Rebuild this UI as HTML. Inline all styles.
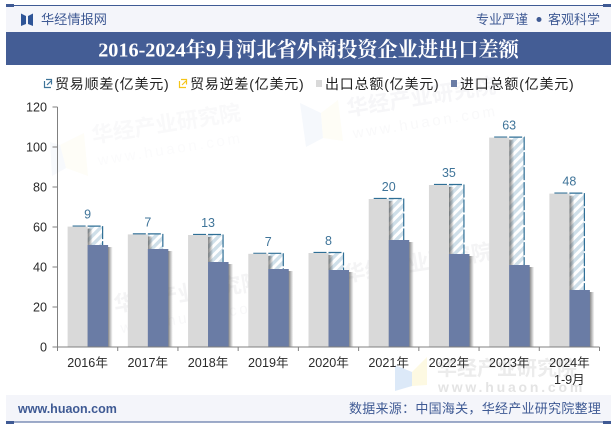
<!DOCTYPE html>
<html lang="zh"><head><meta charset="utf-8"><title>河北省外商投资企业进出口差额</title>
<style>
html,body{margin:0;padding:0;background:#fff;width:615px;height:427px;overflow:hidden}
svg{display:block}
text{font-family:"Liberation Sans","Noto Sans CJK SC",sans-serif}
.serif{font-family:"Liberation Serif","Noto Serif CJK SC",serif}
</style></head><body>
<svg id="chart" xmlns="http://www.w3.org/2000/svg" width="615" height="427" viewBox="0 0 615 427">
<defs>
<pattern id="hatch" patternUnits="userSpaceOnUse" width="6.4" height="6.4" patternTransform="rotate(45)">
<rect width="6.4" height="6.4" fill="#ffffff"/><rect width="3.4" height="6.4" fill="#cfdfe9"/>
</pattern>
<linearGradient id="shade" x1="0" x2="1" y1="0" y2="0">
<stop offset="0" stop-color="#444" stop-opacity=".7"/><stop offset="1" stop-color="#444" stop-opacity="0"/>
</linearGradient>
</defs>
<g id="watermarks">
<g transform="rotate(-9 93 143)" fill="#f9f9fa">
<text x="93" y="143" font-size="21.500" font-weight="700">华经产业研究院</text>
<text x="95" y="166" font-size="15" letter-spacing="2.800" fill="#fbfbfc">www.huaon.com</text></g>
<polygon points="60,145 84,133 88,176 66,168" fill="#fefdf7"/>
<polygon points="50,142 60,145 66,168 52,176" fill="#f7f9fc"/>
<g transform="rotate(-9 348 116)" fill="#f6f6f8">
<text x="348" y="116" font-size="21.500" font-weight="700">华经产业研究院</text>
<text x="350" y="139" font-size="15" letter-spacing="2.800" fill="#f9f9fa">www.huaon.com</text></g>
<polygon points="300,103 321,113 323,138 306,147" fill="#f5f8fc"/>
<polygon points="321,113 338,100 343,141 323,138" fill="#fefdf6"/>
<g transform="rotate(-9 115 312)" fill="#f4f4f5">
<text x="115" y="312" font-size="21.500" font-weight="700">华经产业研究院</text>
<text x="118" y="334" font-size="15" letter-spacing="2.800" fill="#f8f8f9">www.huaon.com</text></g>
<g transform="rotate(-9 345 282)" fill="#f4f4f5">
<text x="345" y="282" font-size="21.500" font-weight="700">华经产业研究院</text></g>
<polygon points="395,365 412,372 412,386 395,391" fill="#dce9f8"/>
<polygon points="412,372 427,357 427,385 412,386" fill="#fdf9e2"/>
<text x="437" y="375" font-size="20" font-weight="700" fill="#ececec">华经产业研究院</text>
<text x="438" y="392" font-size="14" font-weight="700" letter-spacing="2.800" fill="#e4e4e4">www.huaon.com</text>
</g>
<rect x="6" y="6" width="605" height="26" fill="#f4f5fa"/>
<rect x="6" y="5" width="605" height="1" fill="#3f5a94"/>
<rect x="6" y="4" width="8" height="3" fill="#3f5a94"/>
<rect x="603" y="4" width="8" height="3" fill="#3f5a94"/>
<path d="M21 13.500l5 2.500v8l-5 2zM33 13.500l-5 2.500v8l5 2z" fill="#2f5597"/>
<text x="41" y="24" font-size="13.200" fill="#3f5a94">华经情报网</text>
<text x="476" y="24" font-size="13" fill="#3f5a94">专业严谨</text>
<circle cx="539" cy="19.500" r="2.500" fill="#3f5a94"/>
<text x="548" y="24" font-size="13" fill="#3f5a94">客观科学</text>
<rect x="6" y="32" width="605" height="33" fill="#445d95"/>
<text class="serif" x="308.500" y="56.500" font-size="20.200" font-weight="700" fill="#ffffff" text-anchor="middle">2016-2024年9月河北省外商投资企业进出口差额</text>
<g id="legend">
<path d="M44.500 81v6.500h6.500M46 79.500h5.500v5M47 85l4-4" fill="none" stroke="#3f7499" stroke-width="1.200"/>
<text x="55" y="89" font-size="14" letter-spacing=".8" fill="#222">贸易顺差(亿美元)</text>
<path d="M179.500 81v6.500h6.500M181 79.500h5.500v5M182 85l4-4" fill="none" stroke="#f5c518" stroke-width="1.200"/>
<text x="190" y="89" font-size="14" letter-spacing=".8" fill="#222">贸易逆差(亿美元)</text>
<rect x="316" y="80" width="6" height="7" fill="#d9d9d9"/>
<text x="325" y="89" font-size="14" letter-spacing=".8" fill="#222">出口总额(亿美元)</text>
<rect x="451" y="80" width="6" height="7" fill="#6a7ca5"/>
<text x="460" y="89" font-size="14" letter-spacing=".8" fill="#222">进口总额(亿美元)</text>
</g>
<g id="plot"></g>
<rect x="6" y="395" width="605" height="27" fill="#f4f5fa"/>
<rect x="6" y="421.500" width="605" height="1" fill="#3f5a94"/>
<rect x="6" y="421" width="8" height="3" fill="#3f5a94"/>
<rect x="603" y="421" width="8" height="3" fill="#3f5a94"/>
<text x="18" y="413" font-size="12.500" font-weight="700" fill="#3f5a94">www.huaon.com</text>
<text x="349" y="413" font-size="13" letter-spacing=".27" fill="#3f5a94">数据来源：中国海关，华经产业研究院整理</text>
</svg>
<script>
const categories = ['2016年','2017年','2018年','2019年','2020年','2021年','2022年','2023年','2024年'];
const exportsTotal = [60.2,56.3,56,46.6,47,74,81,104.7,76.7];
const importsTotal = [51,49,42.5,39,38.5,53.5,46.5,41,28.5];
const surplusLabels = [9,7,13,7,8,20,35,63,48];
const yTicks = [0,20,40,60,80,100,120];

const NS = 'http://www.w3.org/2000/svg';
const plot = document.getElementById('plot');
const left = 57.5, right = 599.5, base = 347, top_ = 107, yMax = 120;
const step = (right - left) / categories.length;
function xAxis(i){ return left + step * i; }
function yAxis(v){ return base - (base - top_) * v / yMax; }
function mk(tag, attrs){
  const el = document.createElementNS(NS, tag);
  for (const k in attrs) el.setAttribute(k, attrs[k]);
  plot.appendChild(el);
  return el;
}
categories.forEach((c, i) => {
  const cx = xAxis(i + .5);
  const ty = yAxis(exportsTotal[i]), by = yAxis(importsTotal[i]);
  const hatch = mk('rect', {x: cx, y: ty, width: 15, height: by - ty, fill: 'url(#hatch)'});
  
  
  const outline = mk('path', {d: `M${cx-15} ${ty-.5}H${cx+15}V${by}`, fill: 'none', stroke: '#2f6f96', 'stroke-width': 1.2, 'stroke-dasharray': '13 2'});
  
  
  const gs = mk('rect', {x: cx, y: ty + 2, width: 5, height: base - ty - 2, fill: 'url(#shade)'});
  
  
  const g = mk('rect', {x: cx - 20, y: ty, width: 20, height: base - ty, fill: '#d9d9d9'});
  
  
  const bs = mk('rect', {x: cx + 20, y: by + 2, width: 5, height: base - by - 2, fill: 'url(#shade)'});
  
  
  const b = mk('rect', {x: cx, y: by, width: 20.5, height: base - by, fill: '#6a7ca5'});
  
  
  const lab = mk('text', {x: cx, y: ty - 8, 'font-size': 12.5, fill: '#3f7499', 'text-anchor': 'middle'});
  lab.textContent = surplusLabels[i];
  
  
  const xl = mk('text', {x: cx, y: 367, 'font-size': 12.6, fill: '#2b2b2b', 'text-anchor': 'middle'});
  xl.textContent = c;
  
  
});
const sub = mk('text', {x: xAxis(8.5), y: 384, 'font-size': 12.6, fill: '#2b2b2b', 'text-anchor': 'middle'});
sub.textContent = '1-9月';


const yLine = mk('line', {x1: left, x2: left, y1: top_, y2: base, stroke: '#808080', 'stroke-width': 1});


const xLine = mk('line', {x1: left, x2: right, y1: base, y2: base, stroke: '#808080', 'stroke-width': 1});


yTicks.forEach(v => {
  const y = yAxis(v);
  const t = mk('line', {x1: left - 5, x2: left, y1: y, y2: y, stroke: '#808080', 'stroke-width': 1});
  
  
  const l = mk('text', {x: 47, y: y + 4.5, 'font-size': 12.6, fill: '#2b2b2b', 'text-anchor': 'end'});
  l.textContent = v;
  
  
});
for (let i = 0; i <= categories.length; i++) {
  const x = xAxis(i);
  const t = mk('line', {x1: x, x2: x, y1: base, y2: base + 4, stroke: '#808080', 'stroke-width': 1});
  
  
}
</script>
</body></html>
